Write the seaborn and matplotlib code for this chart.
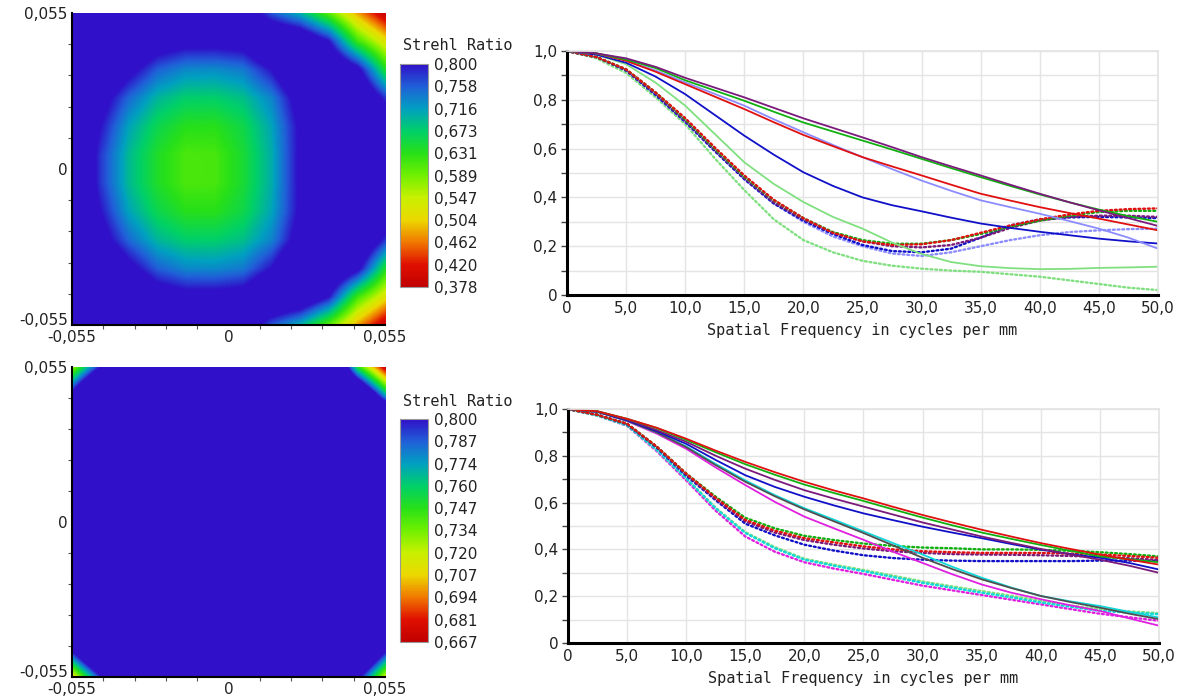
import numpy as np
import matplotlib
matplotlib.use("Agg")
import matplotlib.pyplot as plt
import seaborn as sns
import pandas as pd
from matplotlib.colors import LinearSegmentedColormap
from matplotlib.ticker import MultipleLocator

sns.set_theme(style="white")
plt.rcParams['font.family'] = ['DejaVu Sans']

# ---------------- data ----------------
freq = [0, 2.5, 5, 7.5, 10, 12.5, 15, 17.5, 20, 22.5, 25, 27.5, 30, 32.5, 35, 37.5, 40, 42.5, 45, 47.5, 50]

# top MTF panel: solid (tangential) curves
t_purple = [1.0, .99, .97, .935, .89, .85, .81, .767, .724, .685, .646, .606, .565, .527, .49, .452, .415, .38, .347, .315, .283]
t_green = [1.0, .99, .965, .93, .88, .838, .796, .751, .707, .67, .633, .596, .558, .52, .483, .447, .412, .38, .35, .323, .30]
t_red = [1.0, .99, .96, .915, .864, .813, .762, .708, .656, .61, .565, .527, .49, .452, .415, .387, .36, .336, .313, .289, .265]
t_lblue = [1.0, .99, .96, .92, .871, .824, .776, .72, .667, .615, .565, .516, .469, .427, .388, .36, .333, .303, .272, .235, .19]
t_blue = [1.0, .985, .952, .895, .823, .738, .653, .575, .503, .447, .40, .368, .343, .317, .293, .275, .259, .245, .231, .22, .211]
t_lgreen = [1.0, .985, .946, .87, .776, .66, .544, .455, .381, .32, .272, .215, .168, .135, .118, .11, .106, .107, .111, .113, .116]
# top MTF panel: dotted (sagittal) curves
d_red = [1.0, .975, .925, .83, .725, .605, .49, .39, .315, .255, .22, .205, .208, .225, .255, .285, .31, .33, .345, .352, .355]
d_green = [1.0, .975, .925, .83, .72, .60, .485, .388, .315, .258, .225, .21, .21, .225, .25, .28, .305, .325, .34, .345, .345]
d_purple = [1.0, .975, .922, .825, .715, .595, .48, .38, .31, .255, .22, .20, .195, .205, .235, .275, .305, .32, .325, .325, .32]
d_blue = [1.0, .975, .92, .82, .71, .59, .475, .375, .305, .25, .205, .18, .175, .19, .235, .285, .31, .318, .32, .318, .315]
d_lblue = [1.0, .975, .92, .82, .71, .59, .475, .375, .30, .24, .20, .17, .16, .175, .20, .225, .245, .258, .265, .27, .272]
d_lgreen = [1.0, .97, .91, .81, .70, .56, .43, .31, .225, .175, .14, .12, .108, .10, .095, .085, .075, .06, .045, .03, .02]

# bottom MTF panel: solid curves
b_red = [1.0, .99, .958, .92, .873, .822, .774, .73, .689, .652, .618, .582, .547, .515, .484, .455, .427, .402, .378, .356, .335]
b_green = [1.0, .99, .958, .918, .868, .815, .764, .719, .677, .641, .607, .571, .536, .503, .472, .445, .419, .394, .37, .358, .345]
b_purple = [1.0, .99, .955, .91, .86, .80, .745, .697, .653, .617, .583, .549, .515, .485, .455, .428, .402, .378, .356, .33, .30]
b_blue = [1.0, .988, .952, .905, .851, .782, .717, .667, .625, .588, .554, .525, .497, .472, .448, .423, .399, .38, .364, .342, .314]
b_gray = [1.0, .988, .95, .90, .837, .76, .689, .627, .571, .52, .47, .417, .364, .316, .272, .235, .201, .175, .151, .125, .102]
b_cyan = [1.0, .988, .95, .90, .84, .765, .695, .632, .576, .527, .477, .427, .378, .326, .279, .237, .201, .178, .158, .133, .109]
b_magenta = [1.0, .988, .948, .895, .83, .75, .675, .603, .54, .49, .441, .39, .342, .294, .25, .215, .187, .161, .137, .105, .074]
# bottom MTF panel: dotted curves
e_red = [1.0, .975, .937, .84, .724, .62, .526, .48, .448, .43, .413, .40, .392, .388, .385, .385, .385, .382, .378, .372, .364]
e_green = [1.0, .975, .937, .84, .724, .625, .535, .49, .458, .44, .425, .415, .408, .405, .40, .40, .398, .394, .388, .38, .37]
e_purple = [1.0, .975, .935, .838, .72, .615, .52, .472, .44, .42, .404, .392, .385, .38, .378, .377, .375, .372, .368, .362, .355]
e_blue = [1.0, .975, .935, .835, .715, .61, .51, .46, .42, .395, .375, .363, .356, .352, .35, .35, .35, .35, .352, .352, .35]
e_cyan = [1.0, .972, .93, .825, .703, .575, .47, .405, .356, .33, .307, .282, .257, .236, .215, .195, .173, .155, .137, .13, .123]
e_lgreen = [1.0, .972, .93, .826, .705, .578, .474, .41, .36, .335, .312, .288, .263, .242, .222, .202, .18, .16, .145, .135, .128]
e_magenta = [1.0, .972, .928, .82, .695, .565, .455, .39, .345, .318, .295, .27, .245, .225, .205, .185, .165, .145, .125, .11, .095]

# Strehl ratio maps, sampled every 0.01 from -0.055 to 0.055 (rows: top to bottom)
field_xy = [-0.055, -0.045, -0.035, -0.025, -0.015, -0.005, 0.005, 0.015, 0.025, 0.035, 0.045, 0.055]
strehl_top = [
    [.90, .90, .90, .90, .90, .90, .86, .76, .70, .60, .48, .38],
    [.90, .90, .90, .84, .82, .82, .83, .90, .88, .80, .62, .52],
    [.90, .90, .82, .757, .73, .728, .74, .80, .90, .90, .82, .64],
    [.90, .83, .752, .697, .674, .673, .688, .734, .83, .90, .90, .78],
    [.90, .80, .712, .66, .633, .632, .657, .711, .81, .90, .90, .86],
    [.90, .78, .693, .64, .611, .613, .646, .704, .81, .90, .90, .90],
    [.90, .78, .693, .64, .611, .613, .646, .704, .81, .90, .90, .90],
    [.90, .80, .712, .66, .633, .632, .657, .711, .81, .90, .90, .86],
    [.90, .83, .752, .697, .674, .673, .688, .734, .83, .90, .90, .78],
    [.90, .90, .82, .757, .73, .728, .74, .80, .90, .90, .82, .64],
    [.90, .90, .90, .84, .82, .82, .83, .90, .88, .80, .62, .52],
    [.90, .90, .90, .90, .90, .90, .86, .76, .70, .60, .48, .38],
]
strehl_bot = [
    [.725, .80, .90, .90, .90, .90, .90, .90, .90, .90, .75, .667],
    [.81, .90, .90, .90, .90, .90, .90, .90, .90, .90, .87, .77],
    [.90, .90, .90, .90, .90, .90, .90, .90, .90, .90, .90, .90],
    [.90, .90, .90, .90, .90, .90, .90, .90, .90, .90, .90, .90],
    [.90, .90, .90, .90, .90, .90, .90, .90, .90, .90, .90, .90],
    [.90, .90, .90, .90, .90, .90, .90, .90, .90, .90, .90, .90],
    [.90, .90, .90, .90, .90, .90, .90, .90, .90, .90, .90, .90],
    [.90, .90, .90, .90, .90, .90, .90, .90, .90, .90, .90, .90],
    [.90, .90, .90, .90, .90, .90, .90, .90, .90, .90, .90, .90],
    [.90, .90, .90, .90, .90, .90, .90, .90, .90, .90, .90, .90],
    [.81, .90, .90, .90, .90, .90, .90, .90, .90, .90, .90, .81],
    [.705, .795, .90, .90, .90, .90, .90, .90, .90, .90, .81, .715],
]
cbar_top_labels = ['0,800', '0,758', '0,716', '0,673', '0,631', '0,589', '0,547', '0,504', '0,462', '0,420', '0,378']
cbar_bot_labels = ['0,800', '0,787', '0,774', '0,760', '0,747', '0,734', '0,720', '0,707', '0,694', '0,681', '0,667']
top_range = (0.378, 0.800)
bot_range = (0.667, 0.800)

map_ticks = [-0.055, 0, 0.055]
map_ticklabels = ['-0,055', '0', '0,055']
mtf_xticks = [0, 5, 10, 15, 20, 25, 30, 35, 40, 45, 50]
mtf_xticklabels = ['0', '5,0', '10,0', '15,0', '20,0', '25,0', '30,0', '35,0', '40,0', '45,0', '50,0']
mtf_yticks = [0, 0.2, 0.4, 0.6, 0.8, 1.0]
mtf_yticklabels = ['0', '0,2', '0,4', '0,6', '0,8', '1,0']
xlabel = 'Spatial Frequency in cycles per mm'
cbar_title = 'Strehl Ratio'

# ---------------- styles ----------------
C = {'purple': '#7a1a7a', 'green': '#10b010', 'red': '#e01010', 'blue': '#1010c8',
     'lblue': '#8c8cff', 'lgreen': '#80e080', 'cyan': '#10d8d8', 'magenta': '#e020e0',
     'gray': '#505050'}

top_solid = {'lgreen': t_lgreen, 'blue': t_blue, 'lblue': t_lblue, 'red': t_red, 'green': t_green, 'purple': t_purple}
top_dot = {'lgreen': d_lgreen, 'lblue': d_lblue, 'blue': d_blue, 'purple': d_purple, 'green': d_green, 'red': d_red}
bot_solid = {'magenta': b_magenta, 'cyan': b_cyan, 'gray': b_gray, 'blue': b_blue, 'purple': b_purple, 'green': b_green, 'red': b_red}
bot_dot = {'magenta': e_magenta, 'lgreen': e_lgreen, 'cyan': e_cyan, 'blue': e_blue, 'purple': e_purple, 'green': e_green, 'red': e_red}

cmap = LinearSegmentedColormap.from_list('zemax', [
    (0.0, '#c00000'), (0.1, '#e01000'), (0.2, '#f07800'), (0.3, '#ecd800'),
    (0.4, '#c8f000'), (0.5, '#70f000'), (0.6, '#28e018'), (0.7, '#00d068'),
    (0.8, '#00a0c0'), (0.9, '#2060d8'), (1.0, '#3010c8')])

W, H = 1177, 700
fig = plt.figure(figsize=(W / 100, H / 100), dpi=100)


def box(l, t, r, b):
    return [l / W, 1 - b / H, (r - l) / W, (b - t) / H]


def draw_map(ax, cax, grid, rng, labels, title_y):
    step = field_xy[1] - field_xy[0]
    ext = [field_xy[0] - step / 2, field_xy[-1] + step / 2, field_xy[0] - step / 2, field_xy[-1] + step / 2]
    im = ax.imshow(np.array(grid), extent=ext, origin='upper', cmap=cmap, vmin=rng[0], vmax=rng[1],
                   interpolation='bilinear', interpolation_stage='data', aspect='auto')
    ax.set_xlim(map_ticks[0], map_ticks[-1])
    ax.set_ylim(map_ticks[0], map_ticks[-1])
    ax.set_xticks(map_ticks)
    ax.set_xticklabels(map_ticklabels, fontsize=11, color='#222222')
    ax.set_yticks(map_ticks)
    ax.set_yticklabels(map_ticklabels, fontsize=11, color='#222222')
    ax.get_yticklabels()[0].set_va('baseline')
    ax.xaxis.set_minor_locator(MultipleLocator(0.011))
    ax.yaxis.set_minor_locator(MultipleLocator(0.011))
    ax.tick_params(which='both', direction='out', length=3, width=0.8, color='#555555', bottom=True, left=True)
    ax.tick_params(which='major', length=0)
    ax.tick_params(axis='x', which='major', pad=3.5)
    ax.tick_params(axis='y', which='major', pad=3)
    for s in ['top', 'right']:
        ax.spines[s].set_visible(False)
    for s in ['left', 'bottom']:
        ax.spines[s].set_color('black')
        ax.spines[s].set_linewidth(1.5)
    cb = fig.colorbar(im, cax=cax)
    cb.set_ticks(np.linspace(rng[1], rng[0], len(labels)))
    cb.set_ticklabels(labels, fontsize=11, color='#222222')
    cb.ax.tick_params(length=0, pad=4)
    cb.outline.set_edgecolor('#999999')
    cb.outline.set_linewidth(0.8)
    fig.text(403 / W, 1 - title_y / H, cbar_title, ha='left', va='center', fontsize=11,
             family='DejaVu Sans Mono', color='#222222')


def draw_mtf(ax, solid, dot):
    rows = []
    for name, vals in dot.items():
        for f, v in zip(freq, vals):
            rows.append((f, v, 'd_' + name))
    dfd = pd.DataFrame(rows, columns=['freq', 'mtf', 'curve'])
    rows = []
    for name, vals in solid.items():
        for f, v in zip(freq, vals):
            rows.append((f, v, 's_' + name))
    dfs = pd.DataFrame(rows, columns=['freq', 'mtf', 'curve'])
    sns.lineplot(data=dfd, x='freq', y='mtf', hue='curve', palette={'d_' + k: C[k] for k in dot},
                 linewidth=1.7, legend=False, ax=ax, errorbar=None)
    for ln in ax.get_lines():
        ln.set_linestyle((0, (0.8, 1.2)))
        ln.set_dash_capstyle('round')
    n = len(ax.get_lines())
    sns.lineplot(data=dfs, x='freq', y='mtf', hue='curve', palette={'s_' + k: C[k] for k in solid},
                 linewidth=1.3, legend=False, ax=ax, errorbar=None)
    for ln in ax.get_lines()[n:]:
        ln.set_linestyle('-')
    ax.set_xlim(0, 50)
    ax.set_ylim(0, 1.0)
    ax.set_xticks(mtf_xticks)
    ax.set_xticklabels(mtf_xticklabels, fontsize=11, color='#222222')
    ax.set_yticks(mtf_yticks)
    ax.set_yticklabels(mtf_yticklabels, fontsize=11, color='#222222')
    ax.yaxis.set_minor_locator(MultipleLocator(0.1))
    ax.xaxis.set_minor_locator(MultipleLocator(5))
    ax.grid(True, which='both', color='#e4e4e4', linewidth=1.0)
    ax.set_axisbelow(True)
    ax.tick_params(axis='y', which='both', left=True, direction='out', length=4, width=1, color='#444444', pad=3)
    ax.tick_params(axis='x', which='both', bottom=False, length=0, pad=4.5)
    ax.set_xlabel(xlabel, fontsize=11, family='DejaVu Sans Mono', color='#222222', labelpad=5)
    ax.set_ylabel('')
    for s in ['top', 'right']:
        ax.spines[s].set_color('#e4e4e4')
    for s in ['left', 'bottom']:
        ax.spines[s].set_color('black')
        ax.spines[s].set_linewidth(2.2)


ax_map1 = fig.add_axes(box(72, 13, 385, 325))
cax1 = fig.add_axes(box(400, 64, 428, 287))
ax_mtf1 = fig.add_axes(box(567, 51, 1158, 295))
ax_map2 = fig.add_axes(box(72, 367, 385, 677))
cax2 = fig.add_axes(box(400, 419, 428, 642))
ax_mtf2 = fig.add_axes(box(568, 409, 1159, 643))

draw_map(ax_map1, cax1, strehl_top, top_range, cbar_top_labels, 45)
draw_map(ax_map2, cax2, strehl_bot, bot_range, cbar_bot_labels, 401)
draw_mtf(ax_mtf1, top_solid, top_dot)
draw_mtf(ax_mtf2, bot_solid, bot_dot)

fig.savefig('out.png', dpi=100, facecolor='white')
